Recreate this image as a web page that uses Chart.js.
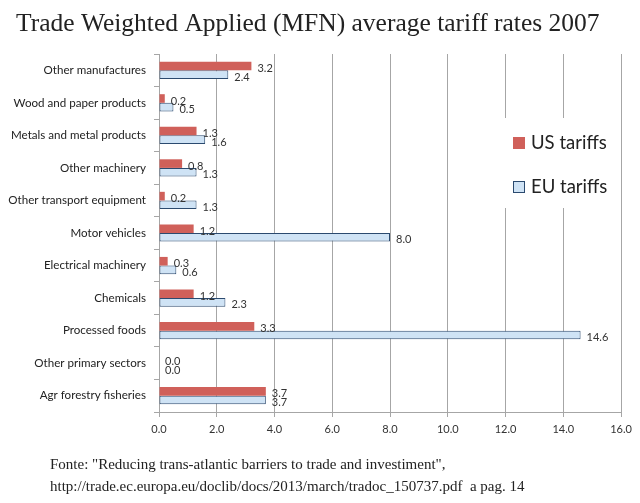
<!DOCTYPE html>
<html>
<head>
<meta charset="utf-8">
<script src="https://cdn.jsdelivr.net/npm/chart.js@4.4.1/dist/chart.umd.min.js"></script>
<style>
html,body{margin:0;padding:0;background:#fff;}
#wrap{position:relative;width:640px;height:503px;}
</style>
</head>
<body>
<div id="wrap"><canvas id="c" width="640" height="503"></canvas></div>
<script>
const categories = ["Other manufactures","Wood and paper products","Metals and metal products","Other machinery","Other transport equipment","Motor vehicles","Electrical machinery","Chemicals","Processed foods","Other primary sectors","Agr forestry fisheries"];
const usTariffs = [3.2,0.2,1.3,0.8,0.2,1.2,0.3,1.2,3.3,0.0,3.7];
const euTariffs = [2.4,0.5,1.6,1.3,1.3,8.0,0.6,2.3,14.6,0.0,3.7];
const seriesNames = ["US tariffs","EU tariffs"];
const titleText = "Trade Weighted Applied (MFN) average tariff rates 2007";
const footerLines = ["Fonte: \"Reducing trans-atlantic barriers to trade and investiment\",","http://trade.ec.europa.eu/doclib/docs/2013/march/tradoc_150737.pdf  a pag. 14"];

const RED = "#d0605a", BLUE = "#cfe3f5", BLUE_BORDER = "#2b4a6f";
const SANS = "Lato, 'Open Sans', sans-serif";
const SERIF = "'Liberation Serif', 'DejaVu Serif', serif";

const decor = {
  id: 'decor',
  afterDraw(chart) {
    const ctx = chart.ctx;
    ctx.save();
    // title
    ctx.fillStyle = "#222";
    ctx.font = "25.5px " + SERIF;
    ctx.textBaseline = "middle";
    ctx.textAlign = "left";
    ctx.fillText(titleText, 16, 24);
    // footer
    ctx.font = "15px " + SERIF;
    ctx.fillText(footerLines[0], 50, 465);
    ctx.fillText(footerLines[1], 50, 487);
    // data labels
    ctx.font = "11px " + SANS;
    ctx.fillStyle = "#333";
    chart.data.datasets.forEach((ds, di) => {
      const meta = chart.getDatasetMeta(di);
      meta.data.forEach((el, i) => {
        ctx.fillText(ds.data[i].toFixed(1), el.x + 6, el.y + 2.5);
      });
    });
    // legend box
    ctx.fillStyle = "#fff";
    ctx.fillRect(492, 118, 126, 90);
    ctx.fillStyle = RED;
    ctx.fillRect(513, 137, 12, 12);
    ctx.fillStyle = BLUE;
    ctx.fillRect(513.5, 181.5, 11, 11);
    ctx.strokeStyle = BLUE_BORDER;
    ctx.lineWidth = 1;
    ctx.strokeRect(513.5, 181.5, 11, 11);
    ctx.fillStyle = "#222";
    ctx.font = "18.5px " + SANS;
    ctx.fillText(seriesNames[0], 531, 143);
    ctx.fillText(seriesNames[1], 531, 187);
    ctx.restore();
  }
};

new Chart(document.getElementById('c'), {
  type: 'bar',
  data: {
    labels: categories,
    datasets: [
      { label: seriesNames[0], data: usTariffs, backgroundColor: RED, borderWidth: 0,
        categoryPercentage: 0.53, barPercentage: 1.0 },
      { label: seriesNames[1], data: euTariffs, backgroundColor: BLUE, borderColor: BLUE_BORDER,
        borderWidth: 1, borderSkipped: false, categoryPercentage: 0.53, barPercentage: 1.0 }
    ]
  },
  options: {
    indexAxis: 'y',
    responsive: false,
    animation: false,
    devicePixelRatio: 1,
    layout: { padding: { top: 54, right: 19, left: 0, bottom: 0 } },
    plugins: { legend: { display: false }, tooltip: { enabled: false }, title: { display: false } },
    scales: {
      x: {
        min: 0, max: 16,
        ticks: { stepSize: 2, callback: v => Number(v).toFixed(1), color: "#333",
                 font: { family: SANS, size: 11 }, padding: 6 },
        grid: { color: "#a6a6a6", tickLength: 5, tickColor: "#a6a6a6" },
        border: { color: "#a6a6a6" },
        afterFit(s) { s.height = 91; }
      },
      y: {
        ticks: { color: "#222", font: { family: SANS, size: 11.6 }, padding: 8 },
        grid: { offset: true, drawOnChartArea: false, tickLength: 5, tickColor: "#a6a6a6" },
        border: { color: "#a6a6a6" },
        afterFit(s) { s.width = 159; }
      }
    }
  },
  plugins: [decor]
});
</script>
</body>
</html>
